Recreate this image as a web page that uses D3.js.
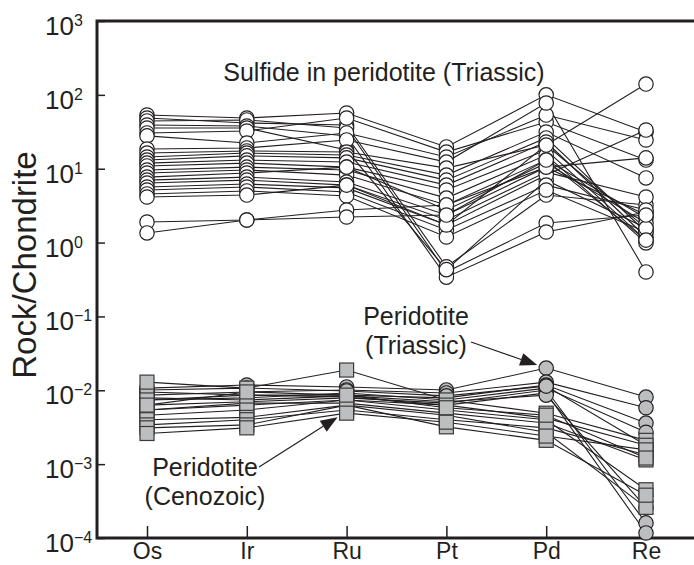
<!DOCTYPE html>
<html>
<head>
<meta charset="utf-8">
<script src="https://d3js.org/d3.v7.min.js"></script>
<style>
  body { margin: 0; background: #fff; }
  svg text { font-family: 'Liberation Sans', Arial, Helvetica, sans-serif; fill: #231f20; }
</style>
</head>
<body>
<div class="chart"></div>
<script>
// PGE patterns normalised to chondrite

var elements = ['Os', 'Ir', 'Ru', 'Pt', 'Pd', 'Re'];

// sulfide grains in Triassic peridotite (white circles)
var sulfide = [
  [53.3, 48.6, 56.8, 19.7, 100, 31.4],
  [48.6, 41.6, 39.1, 0.47, 4.4, 3.23],
  [44.3, 45.7, 35.6, 0.40, 1.84, 2.36],
  [39.1, 37.9, 27.8, 0.34, 1.39, 2.59],
  [35.6, 35.6, 17.9, 0.43, 7.0, 1.57],
  [30.5, 32.4, 48.6, 16.8, 42.9, 13.1],
  [27.8, 22.3, 30.5, 14.4, 53.3, 24.5],
  [18.5, 19.1, 24.5, 12.3, 77.6, 0.40],
  [16.3, 17.4, 16.8, 10.2, 20.9, 140],
  [14.4, 16.3, 15.3, 8.2, 31.4, 7.5],
  [13.1, 14.9, 14.0, 7.0, 26.1, 1.39],
  [11.9, 13.1, 12.3, 6.0, 23.0, 1.19],
  [10.9, 11.9, 10.5, 5.15, 17.9, 1.08],
  [9.6, 10.5, 9.6, 4.0, 15.3, 0.99],
  [8.75, 9.6, 8.2, 3.23, 13.1, 2.15],
  [7.7, 8.75, 10.5, 2.76, 11.9, 1.84],
  [7.0, 7.7, 6.6, 2.36, 10.5, 14.0],
  [6.4, 7.0, 6.0, 2.02, 9.0, 4.14],
  [5.65, 6.2, 5.5, 1.73, 8.2, 33.4],
  [5.15, 5.65, 4.84, 1.48, 6.0, 2.76],
  [4.55, 5.0, 4.27, 1.19, 5.15, 1.39],
  [4.14, 4.4, 6.0, 1.73, 20.9, 1.57],
  [1.90, 2.02, 2.76, 3.23, 10.5, 2.36],
  [1.35, 2.02, 2.22, 2.36, 13.1, 1.08]
];

// whole-rock peridotite, Triassic (grey circles)
var peridotiteTriassic = [
  [0.0107, 0.0118, 0.0111, 0.0101, 0.0200, 0.0081],
  [0.0086, 0.0095, 0.0101, 0.0092, 0.0129, 0.0058],
  [0.0095, 0.0086, 0.0086, 0.0079, 0.0118, 0.0036],
  [0.0074, 0.0079, 0.0092, 0.0074, 0.0107, 0.0027],
  [0.0063, 0.0070, 0.0079, 0.0067, 0.0101, 0.00016],
  [0.0054, 0.0063, 0.0074, 0.0063, 0.0092, 0.000117],
  [0.0079, 0.0074, 0.0084, 0.0070, 0.0086, 0.00026],
  [0.0101, 0.0107, 0.0098, 0.0084, 0.0114, 0.0018]
];

// whole-rock peridotite, Cenozoic (grey squares)
var peridotiteCenozoic = [
  [0.0129, 0.0107, 0.0188, 0.0074, 0.0049, 0.0021],
  [0.0074, 0.0086, 0.0081, 0.0063, 0.0042, 0.0018],
  [0.0054, 0.0067, 0.0067, 0.0049, 0.0036, 0.00114],
  [0.0046, 0.0054, 0.0074, 0.0054, 0.0040, 0.00045],
  [0.0040, 0.0043, 0.0063, 0.0046, 0.0027, 0.00026],
  [0.0034, 0.0040, 0.0054, 0.0040, 0.0031, 0.00133],
  [0.0031, 0.0034, 0.0063, 0.0032, 0.0021, 0.00038],
  [0.0026, 0.0031, 0.0049, 0.0037, 0.0024, 0.00156],
  [0.0063, 0.0095, 0.0086, 0.0058, 0.0046, 0.00121]
];

var yExponents = [3, 2, 1, 0, -1, -2, -3, -4];

var width = 694, height = 565;
var plotLeft = 97, plotTop = 21, plotBottom = 538;

var svg = d3.select('.chart').append('svg')
  .attr('width', width).attr('height', height);

var x = d3.scalePoint().domain(elements).range([147, 646]);
var y = d3.scaleLog().domain([1e-4, 1e3]).range([plotBottom, plotTop]);

// y ticks (inward) and labels with superscript exponents
svg.append('g')
  .attr('transform', 'translate(' + plotLeft + ',0)')
  .call(d3.axisLeft(y).tickValues(yExponents.map(function (e) { return Math.pow(10, e); }))
    .tickSize(-8).tickSizeOuter(0).tickFormat(''))
  .call(function (g) {
    g.select('.domain').remove();
    g.selectAll('line').attr('stroke', '#231f20').attr('stroke-width', 1.5);
  });

var yLab = svg.append('g').selectAll('text')
  .data(yExponents)
  .enter().append('text')
  .attr('x', 45)
  .attr('y', function (e) { return y(Math.pow(10, e)) + 14; })
  .style('font-size', '26px');
yLab.append('tspan').text('10');
yLab.append('tspan')
  .attr('dy', -9)
  .style('font-size', '16px')
  .text(function (e) { return e < 0 ? '\u2212' + (-e) : String(e); });

// x ticks pointing up
svg.append('g')
  .attr('transform', 'translate(0,' + plotBottom + ')')
  .call(d3.axisBottom(x).tickSizeInner(-12).tickSizeOuter(0).tickPadding(0))
  .call(function (g) {
    g.select('.domain').remove();
    g.selectAll('line').attr('stroke', '#231f20').attr('stroke-width', 1.5);
    g.selectAll('text').attr('y', 21).attr('dy', null)
      .style('font-size', '23px').attr('fill', '#231f20');
  });

// frame (right side is open)
svg.append('path')
  .attr('d', 'M' + width + ',' + plotTop + 'H' + plotLeft + 'V' + plotBottom + 'H' + width)
  .attr('fill', 'none').attr('stroke', '#231f20').attr('stroke-width', 3);

svg.append('text')
  .attr('transform', 'translate(36,265) rotate(-90)')
  .attr('text-anchor', 'middle')
  .style('font-size', '33px')
  .text('Rock/Chondrite');

var line = d3.line()
  .x(function (d, i) { return x(elements[i]); })
  .y(function (d) { return y(d); });

function drawLines(data) {
  svg.append('g').selectAll('path')
    .data(data).enter().append('path')
    .attr('d', line)
    .attr('fill', 'none').attr('stroke', '#231f20').attr('stroke-width', 1.1);
}

function points(data) {
  var pts = [];
  data.forEach(function (row) {
    row.forEach(function (v, i) { pts.push({ el: elements[i], v: v }); });
  });
  return pts;
}

function drawCircles(data, fill) {
  svg.append('g').selectAll('circle')
    .data(points(data)).enter().append('circle')
    .attr('cx', function (d) { return x(d.el); })
    .attr('cy', function (d) { return y(d.v); })
    .attr('r', 7.2)
    .attr('fill', fill).attr('stroke', '#231f20').attr('stroke-width', 1.2);
}

drawLines(sulfide);
drawCircles(sulfide, '#fff');

drawLines(peridotiteTriassic);
drawLines(peridotiteCenozoic);
drawCircles(peridotiteTriassic, '#bcbec0');

svg.append('g').selectAll('rect')
  .data(points(peridotiteCenozoic)).enter().append('rect')
  .attr('x', function (d) { return x(d.el) - 7; })
  .attr('y', function (d) { return y(d.v) - 7; })
  .attr('width', 14).attr('height', 14)
  .attr('fill', '#bcbec0').attr('stroke', '#3a3a3a').attr('stroke-width', 1.2);

// annotations
svg.append('text')
  .attr('x', 384).attr('y', 81)
  .attr('text-anchor', 'middle')
  .style('font-size', '25px')
  .text('Sulfide in peridotite (Triassic)');

function label(cx, y0, lines) {
  svg.append('g').selectAll('text')
    .data(lines).enter().append('text')
    .attr('x', cx).attr('y', function (d, i) { return y0 + i * 29; })
    .attr('text-anchor', 'middle')
    .style('font-size', '25px')
    .text(function (d) { return d; });
}
label(416, 325, ['Peridotite', '(Triassic)']);
label(205, 476, ['Peridotite', '(Cenozoic)']);

function arrow(x0, y0, x1, y1) {
  var a = Math.atan2(y1 - y0, x1 - x0), len = 17, w = 6.5;
  var bx = x1 - len * Math.cos(a), by = y1 - len * Math.sin(a);
  svg.append('line')
    .attr('x1', x0).attr('y1', y0).attr('x2', bx).attr('y2', by)
    .attr('stroke', '#231f20').attr('stroke-width', 1.2);
  svg.append('path')
    .attr('d', 'M' + x1 + ',' + y1 +
      'L' + (bx + w * Math.sin(a)) + ',' + (by - w * Math.cos(a)) +
      'L' + (bx - w * Math.sin(a)) + ',' + (by + w * Math.cos(a)) + 'Z')
    .attr('fill', '#231f20');
}
arrow(471, 342, x('Pd') - 9, y(0.02) - 3);
arrow(259, 467, x('Ru') - 9, y(0.0046) + 2);
</script>
</body>
</html>
